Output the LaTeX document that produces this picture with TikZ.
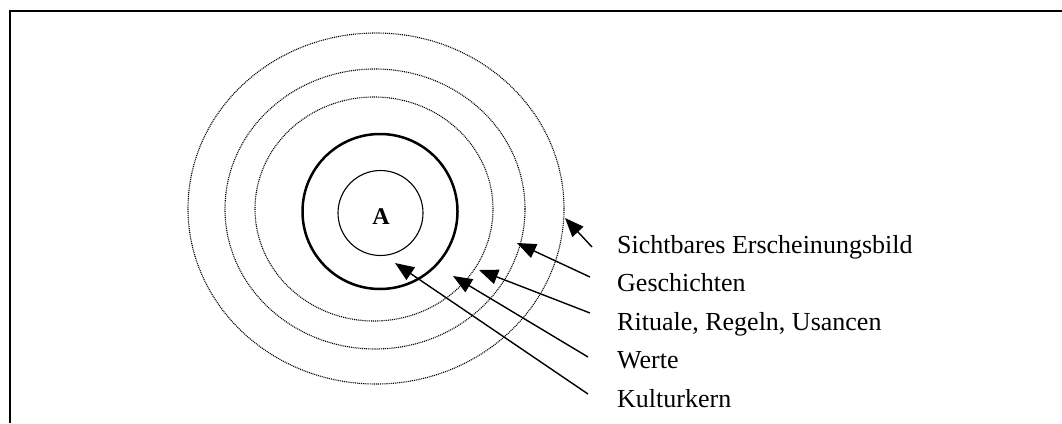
\documentclass[tikz,border=0pt]{standalone}
\usepackage{fontspec}
\setmainfont{Liberation Serif}
\usetikzlibrary{arrows.meta,shapes.geometric}
\begin{document}
\begin{tikzpicture}[x=1pt,y=-1pt,
  lbl/.style={anchor=base west,inner sep=0pt,font=\fontsize{26}{30}\selectfont},
  dotring/.style={draw,ellipse,dash pattern=on 1pt off 0.9pt,line width=1.1pt,inner sep=0pt},
  arr/.style={line width=1.4pt,-{Triangle[length=19pt,width=15pt]}}]
\useasboundingbox (0,0) rectangle (1062,423);
% frame
\draw[line width=2pt] (9.5,423) -- (9.5,11) -- (1062,11);
% rings
\node[dotring,minimum width=376pt,minimum height=351pt] (ring3) at (376,208.5) {};
\node[dotring,minimum width=300pt,minimum height=280pt] (ring2) at (375,209) {};
\node[dotring,minimum width=238pt,minimum height=224pt] (ring1) at (374,209) {};
\node[draw,circle,line width=2.5pt,minimum size=155pt,inner sep=0pt] (werte) at (380,211.5) {};
\node[draw,circle,line width=1.1pt,minimum size=85pt,inner sep=0pt] (kern) at (380.5,213) {};
\node[inner sep=0pt,font=\fontsize{24}{28}\selectfont\bfseries] (A) at (381,217) {A};
% labels
\node[lbl] (l1) at (617,253) {Sichtbares Erscheinungsbild};
\node[lbl] (l2) at (617,291) {Geschichten};
\node[lbl] (l3) at (617,330.5) {Rituale, Regeln, Usancen};
\node[lbl] (l4) at (617,368.5) {Werte};
\node[lbl] (l5) at (617,407) {Kulturkern};
% arrows
\coordinate (t1) at (592,247); \coordinate (h1) at (565,218);
\coordinate (t2) at (590,277); \coordinate (h2) at (517,243);
\coordinate (t3) at (590,313); \coordinate (h3) at (479,270);
\coordinate (t4) at (588,357); \coordinate (h4) at (453,276);
\coordinate (t5) at (588,394); \coordinate (h5) at (395,263);
\draw[arr] (t1) -- (h1);
\draw[arr] (t2) -- (h2);
\draw[arr] (t3) -- (h3);
\draw[arr] (t4) -- (h4);
\draw[arr] (t5) -- (h5);
\end{tikzpicture}
\end{document}
